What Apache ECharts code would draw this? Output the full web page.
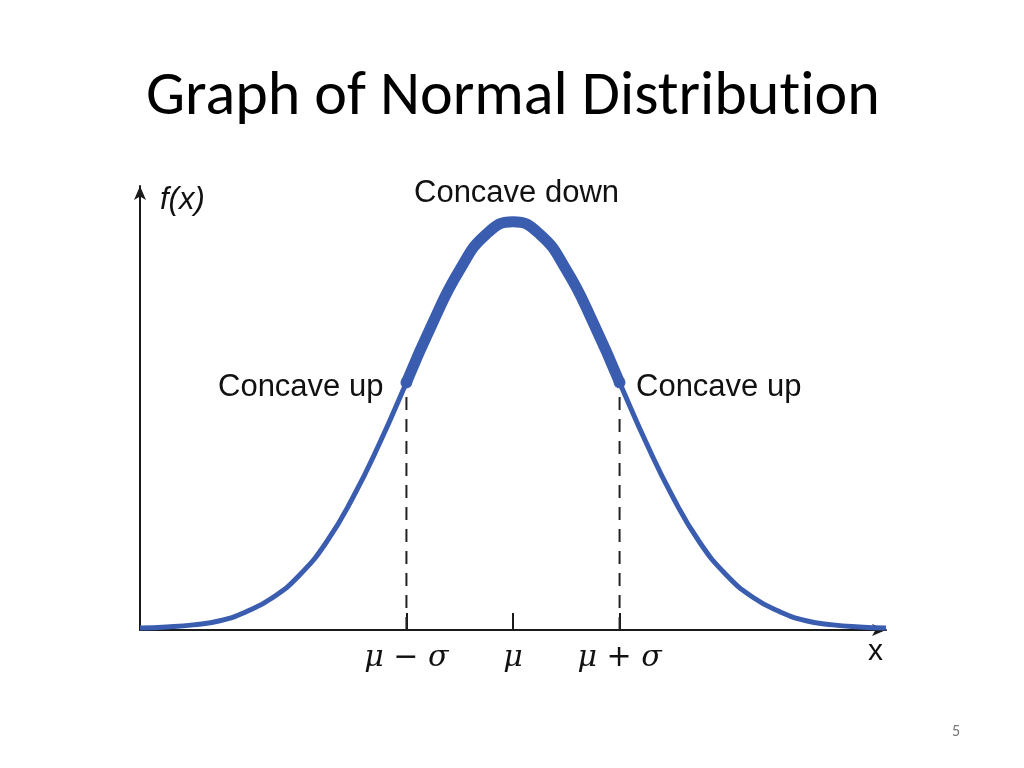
<!DOCTYPE html>
<html>
<head>
<meta charset="utf-8">
<script src="https://cdn.jsdelivr.net/npm/echarts@6/dist/echarts.min.js"></script>
<style>
html,body{margin:0;padding:0;background:#fff;}
#chart{width:1024px;height:768px;}
</style>
</head>
<body>
<div id="chart"></div>
<script>
// x in units of sigma from the mean; f(x)
var xValues = [-3.5,-3.25,-3,-2.75,-2.5,-2.25,-2,-1.75,-1.5,-1.25,-1,-0.75,-0.5,-0.25,0,0.25,0.5,0.75,1,1.25,1.5,1.75,2,2.25,2.5,2.75,3,3.25,3.5];
var fValues = [0.002,0.003,0.005,0.009,0.018,0.032,0.054,0.086,0.130,0.183,0.242,0.301,0.352,0.387,0.399,0.387,0.352,0.301,0.242,0.183,0.130,0.086,0.054,0.032,0.018,0.009,0.005,0.003,0.002];
var inflectionX = [-1, 1];
var inflectionF = [0.242, 0.242];
var tickValues = [-1, 0, 1];
var tickLabels = ['μ − σ', 'μ', 'μ + σ'];

var full = xValues.map(function(x,i){return [x, fValues[i]];});
var mid = full.filter(function(p){return p[0] >= -1 && p[0] <= 1;});
var dots = inflectionX.map(function(x,i){return [x, inflectionF[i]];});

var chart = echarts.init(document.getElementById('chart'), null, {renderer:'canvas'});
var blue = '#3a5db0';
var titleFont = {fontFamily: 'Carlito, Calibri, Lato, sans-serif', fontSize: 62, fontWeight: 'normal', color: '#000'};

function richLabel(s){
  if (s === 'μ') return '{i|μ}';
  var parts = s.split(' ');
  return '{i|' + parts[0] + '}{n| ' + parts[1] + ' }{i|' + parts[2] + '}';
}

var option = {
  backgroundColor: '#ffffff',
  animation: false,
  title: {
    text: 'Graph of Normal Distribu{s|t}ion',
    left: 141, top: 62,
    textStyle: Object.assign({}, titleFont, {rich: {s: titleFont}})
  },
  grid: {left: 140, right: 138, top: 186, bottom: 138},
  xAxis: {
    type: 'value', min: -3.5, max: 3.5,
    splitLine: {show: false},
    axisLine: {show: true, onZero: false, symbol: ['none','arrow'], symbolSize: [9, 14], lineStyle: {color: '#1a1a1a', width: 2}},
    axisTick: {show: true, inside: true, length: 17, customValues: tickValues, lineStyle: {color: '#1a1a1a', width: 2}},
    axisLabel: {
      show: true, customValues: tickValues, margin: 13,
      formatter: function(v){ var i = tickValues.indexOf(v); return i >= 0 ? richLabel(tickLabels[i]) : ''; },
      rich: {
        i: {fontFamily: 'DejaVu Serif, serif', fontStyle: 'italic', fontSize: 30, color: '#111'},
        n: {fontFamily: 'DejaVu Sans, sans-serif', fontSize: 30, color: '#111'}
      }
    }
  },
  yAxis: {
    type: 'value', min: 0, max: 0.434,
    splitLine: {show: false},
    axisLine: {show: true, onZero: false, symbol: ['none','arrow'], symbolSize: [9, 14], lineStyle: {color: '#1a1a1a', width: 2}},
    axisTick: {show: false},
    axisLabel: {show: false}
  },
  graphic: [
    {type: 'text', left: 160, top: 185, style: {text: 'f(x)', font: 'italic 31px "Liberation Sans", Arial, sans-serif', fill: '#111'}},
    {type: 'text', left: 414, top: 178, style: {text: 'Concave down', font: '31px "Liberation Sans", Arial, sans-serif', fill: '#111'}},
    {type: 'text', left: 218, top: 372, style: {text: 'Concave up', font: '31px "Liberation Sans", Arial, sans-serif', fill: '#111'}},
    {type: 'text', left: 636, top: 372, style: {text: 'Concave up', font: '31px "Liberation Sans", Arial, sans-serif', fill: '#111'}},
    {type: 'text', left: 868, top: 637, style: {text: 'x', font: '30px "Liberation Sans", Arial, sans-serif', fill: '#111'}},
    {type: 'text', left: 952, top: 724, style: {text: '5', font: '16px Carlito, Calibri, Lato, sans-serif', fill: '#777'}}
  ],
  series: [
    {
      type: 'line', data: [[inflectionX[0], 0],[inflectionX[0], inflectionF[0]]], symbol: 'none',
      lineStyle: {color: '#222', width: 2, type: [13, 9]}, z: 1
    },
    {
      type: 'line', data: [[inflectionX[1], 0],[inflectionX[1], inflectionF[1]]], symbol: 'none',
      lineStyle: {color: '#222', width: 2, type: [13, 9]}, z: 1
    },
    {
      type: 'line', data: full, smooth: true, symbol: 'none',
      lineStyle: {color: blue, width: 5}, z: 3
    },
    {
      type: 'line', data: mid, smooth: true, symbol: 'none',
      lineStyle: {color: blue, width: 11, cap: 'round'}, z: 4
    },
    {
      type: 'scatter', data: dots, symbolSize: 12,
      itemStyle: {color: blue}, z: 5
    }
  ]
};
chart.setOption(option);
</script>
</body>
</html>
